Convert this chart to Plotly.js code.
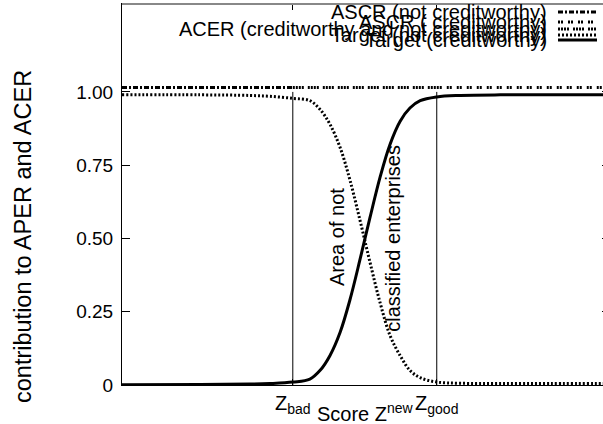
<!DOCTYPE html>
<html>
<head>
<meta charset="utf-8">
<script src="https://cdn.plot.ly/plotly-3.0.1.min.js"></script>
<style>
html,body{margin:0;padding:0;overflow:hidden;background:#fff;}
#chart{width:610px;height:424px;}
</style>
</head>
<body>
<div id="chart"></div>
<script>
// Score axis (arbitrary units 0..100)
const score = [0, 16.0, 26.2, 30.3, 35.0, 38.5, 40.6, 42.6, 44.7, 46.7, 48.8, 50.8, 52.9, 54.9, 57.0, 59.0, 61.1, 64.5, 69.3, 77.5, 87.7, 100];
const targetCreditworthy = [0.001, 0.002, 0.003, 0.005, 0.01, 0.02, 0.05, 0.10, 0.18, 0.29, 0.43, 0.57, 0.71, 0.82, 0.90, 0.945, 0.97, 0.983, 0.988, 0.99, 0.99, 0.99];
const targetNotCreditworthy = [0.99, 0.99, 0.988, 0.985, 0.978, 0.97, 0.94, 0.89, 0.81, 0.70, 0.56, 0.42, 0.28, 0.17, 0.10, 0.05, 0.025, 0.01, 0.006, 0.005, 0.005, 0.005];
const zBad = 35.0;
const zGood = 64.5;
const ascrNotX = [0, zBad];
const ascrNotY = [1.015, 1.015];
const acerX = [zBad, zGood];
const acerY = [1.015, 1.015];
const ascrCredX = [zGood, 100];
const ascrCredY = [1.015, 1.015];
const markerLineY = [0, 1.0];
const yTicks = [0, 0.25, 0.5, 0.75, 1.0];
const yTickText = ['0', '0.25', '0.50', '0.75', '1.00'];
const xTicks = [zBad, zGood];
const xTickText = ['Z<sub>bad</sub>', 'Z<sub>good</sub>'];
const legendNames = ['ASCR (not creditworthy)', 'ASCR ( creditworthy)', 'ACER (creditworthy and not creditworthy)', 'Target (not creditworthy)', 'Target (creditworthy)'];

const FONT = 'Liberation Sans, Arial, Helvetica, sans-serif';
const dashAscrNot = '5px,2px,2px,2px';
const dashAscrCred = '2px,1px,2px,5px';
const dashAcer = '2px,1px,2px,1px,2px,1px,2px,4px';
const dashTargetNot = '2px,2px';

const traces = [
  {x: [zBad, zBad], y: markerLineY, mode: 'lines', line: {color: '#000', width: 1}},
  {x: [zGood, zGood], y: markerLineY, mode: 'lines', line: {color: '#000', width: 1}},
  {x: ascrNotX, y: ascrNotY, mode: 'lines', line: {color: '#000', width: 3, dash: dashAscrNot}},
  {x: acerX, y: acerY, mode: 'lines', line: {color: '#000', width: 3, dash: dashAcer}},
  {x: ascrCredX, y: ascrCredY, mode: 'lines', line: {color: '#000', width: 3, dash: dashAscrCred}},
  {x: score, y: targetNotCreditworthy, mode: 'lines', line: {color: '#000', width: 3, dash: dashTargetNot, shape: 'spline'}},
  {x: score, y: targetCreditworthy, mode: 'lines', line: {color: '#000', width: 3, shape: 'spline'}}
];

// legend rows (text + sample) drawn manually to mimic the overlapping original key
const rowY = [12, 22, 29, 35, 40];
const rowDash = [dashAscrNot, dashAscrCred, dashAcer, dashTargetNot, 'solid'];
const H = 424, T = 4, B = 39;
function py(p){ return 1 - (p - T) / (H - T - B); }
function px(p){ return (p - 122) / 488; }

const annotations = [];
const shapes = [];
legendNames.forEach((n, i) => {
  annotations.push({xref: 'paper', yref: 'paper', x: px(549), y: py(rowY[i]), xanchor: 'right', yanchor: 'middle',
    text: n, showarrow: false, font: {family: FONT, size: 20, color: '#000'}});
  shapes.push({type: 'line', xref: 'paper', yref: 'paper', x0: px(558), x1: px(597), y0: py(rowY[i]), y1: py(rowY[i]),
    line: {color: '#000', width: 3, dash: rowDash[i]}});
});
shapes.push({type: 'line', xref: 'paper', yref: 'paper', x0: 0, x1: 1, y0: 1, y1: 1, line: {color: '#888', width: 2}, layer: 'above'});

annotations.push({xref: 'x', yref: 'y', x: 44.06, y: 0.505, text: 'Area of not', textangle: -90, showarrow: false,
  font: {family: FONT, size: 20, color: '#000'}});
annotations.push({xref: 'x', yref: 'y', x: 55.6, y: 0.50, text: 'classified enterprises', textangle: -90, showarrow: false,
  font: {family: FONT, size: 20, color: '#000'}});
annotations.push({xref: 'paper', yref: 'paper', x: -99/488, y: py(237), text: 'contribution to APER and ACER', textangle: -90, showarrow: false,
  xanchor: 'center', yanchor: 'middle', font: {family: FONT, size: 23.5, color: '#000'}});
annotations.push({xref: 'paper', yref: 'paper', x: px(365), y: py(412), text: 'Score Z<sup>new</sup>', showarrow: false,
  xanchor: 'center', yanchor: 'middle', font: {family: FONT, size: 20, color: '#000'}});

const layout = {
  width: 610, height: 424,
  margin: {l: 122, r: 0, t: T, b: B, pad: 0},
  paper_bgcolor: '#fff', plot_bgcolor: '#fff',
  showlegend: false,
  font: {family: FONT, size: 19, color: '#000'},
  xaxis: {range: [0, 100], showgrid: false, zeroline: false, showline: true, linecolor: '#000', linewidth: 1,
    mirror: 'allticks', ticks: 'inside', ticklen: 6, tickcolor: '#000',
    tickmode: 'array', tickvals: xTicks, ticktext: xTickText, tickfont: {family: FONT, size: 20}},
  yaxis: {range: [0, 1.3], showgrid: false, zeroline: false, showline: true, linecolor: '#000', linewidth: 1,
    mirror: 'allticks', ticks: 'inside', ticklen: 8, tickcolor: '#000',
    tickmode: 'array', tickvals: yTicks, ticktext: yTickText, tickfont: {family: FONT, size: 19}, ticklabelstandoff: 4},
  annotations: annotations,
  shapes: shapes
};
Plotly.newPlot('chart', traces, layout, {staticPlot: true, displayModeBar: false});
</script>
</body>
</html>
